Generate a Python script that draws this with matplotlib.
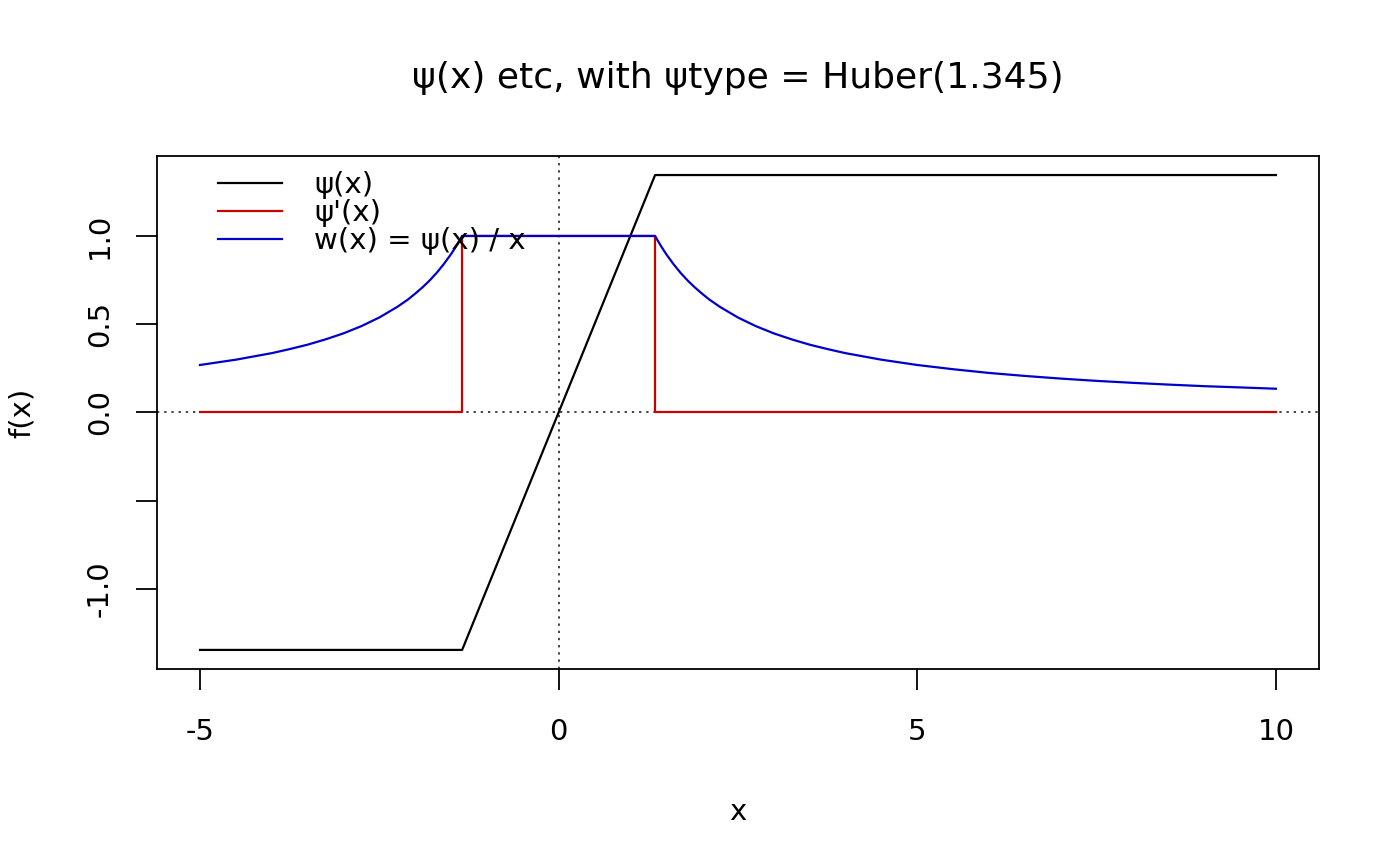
import matplotlib.pyplot as plt

# psi(x): Huber, k = 1.345
psi_x = [-5, -1.345, 1.345, 10]
psi_y = [-1.345, -1.345, 1.345, 1.345]

# psi'(x)
dpsi_x = [-5, -1.345, -1.345, 1.345, 1.345, 10]
dpsi_y = [0, 0, 1, 1, 0, 0]

# w(x) = psi(x)/x
wt_x = [-5, -4.5, -4, -3.75, -3.5, -3.25, -3, -2.75, -2.5, -2.25, -2.1, -2, -1.9, -1.8,
        -1.7, -1.6, -1.5, -1.45, -1.4, -1.37, -1.345,
        1.345, 1.37, 1.4, 1.45, 1.5, 1.6, 1.7, 1.8, 1.9, 2, 2.1, 2.25, 2.5, 2.75, 3,
        3.25, 3.5, 3.75, 4, 4.5, 5, 5.5, 6, 6.5, 7, 7.5, 8, 8.5, 9, 9.5, 10]
wt_y = [0.269, 0.299, 0.336, 0.359, 0.384, 0.414, 0.448, 0.489, 0.538, 0.598, 0.640, 0.673,
        0.708, 0.747, 0.791, 0.841, 0.897, 0.928, 0.961, 0.982, 1.0,
        1.0, 0.982, 0.961, 0.928, 0.897, 0.841, 0.791, 0.747, 0.708, 0.673, 0.640, 0.598,
        0.538, 0.489, 0.448, 0.414, 0.384, 0.359, 0.336, 0.299, 0.269, 0.245, 0.224,
        0.207, 0.192, 0.179, 0.168, 0.158, 0.149, 0.142, 0.1345]

xticks = [-5, 0, 5, 10]
yticks = [-1.0, -0.5, 0.0, 0.5, 1.0]
ytick_labels = ['-1.0', '', '0.0', '0.5', '1.0']
labels = ["ψ(x)", "ψ'(x)", "w(x) = ψ(x) / x"]

fs = 21
fig = plt.figure(figsize=(14, 8.66), dpi=100)
ax = fig.add_axes([0.1121, 0.2275, 0.83, 0.5924])

l1, = ax.plot(psi_x, psi_y, color='black', lw=1.6)
l2, = ax.plot(dpsi_x, dpsi_y, color='#CD0000', lw=1.6)
l3, = ax.plot(wt_x, wt_y, color='#0000CD', lw=1.6)

ax.axhline(0, color='#444444', lw=1.4, ls=(0, (1.2, 2.5)), zorder=0)
ax.axvline(0, color='#444444', lw=1.4, ls=(0, (1.2, 2.5)), zorder=0)

ax.set_xlim(-5.6, 10.6)
ax.set_ylim(-1.453, 1.453)
ax.set_xticks(xticks)
ax.set_xticklabels([str(t) for t in xticks])
ax.set_yticks(yticks)
ax.set_yticklabels(ytick_labels, rotation=90, va='center')
ax.tick_params(axis='both', labelsize=fs, length=15, width=1.3, direction='out')
ax.tick_params(axis='x', pad=20)
ax.tick_params(axis='y', pad=16)
for s in ax.spines.values():
    s.set_linewidth(1.3)

ax.set_xlabel('x', fontsize=fs, labelpad=38)
ax.set_ylabel('f(x)', fontsize=fs, labelpad=36)
fig.text(0.527, 0.91, 'ψ(x) etc, with ψtype = Huber(1.345)', fontsize=26,
         ha='center', va='center')

ax.legend([l1, l2, l3], labels, loc='upper left', bbox_to_anchor=(0.035, 1.01),
          frameon=False, fontsize=fs, handlelength=2.2, handletextpad=1.1,
          labelspacing=0.0, borderaxespad=0.3)

fig.savefig('out.png', dpi=100)
